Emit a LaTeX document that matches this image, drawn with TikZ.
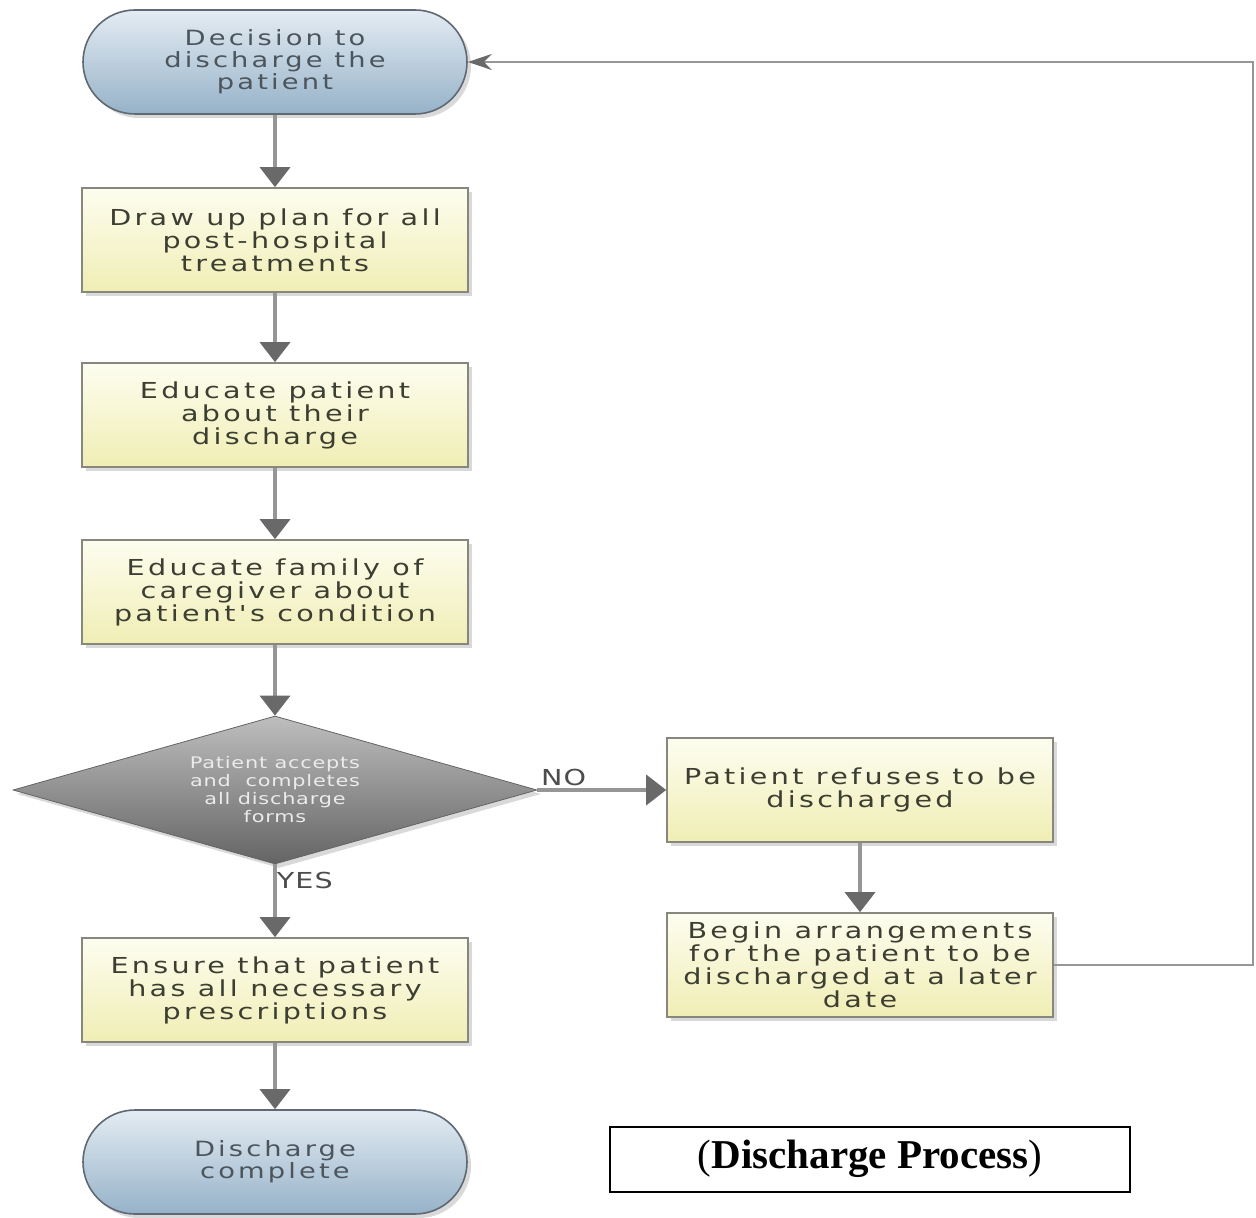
\documentclass[tikz,border=0pt]{standalone}
\usepackage{fontspec}
\usepackage{tikz}
\usetikzlibrary{arrows.meta,positioning,shapes.geometric,shapes.misc,shadows}
\newfontfamily\flowfont{DejaVu Sans}[FakeStretch=1.3,LetterSpace=15]
\newfontfamily\askfont{DejaVu Sans}[FakeStretch=1.3,LetterSpace=5]
\newfontfamily\capfont{Liberation Serif}
\definecolor{StepTop}{RGB}{253,253,240}
\definecolor{StepBottom}{RGB}{240,238,180}
\definecolor{StepLine}{RGB}{135,135,125}
\definecolor{EndTop}{RGB}{228,236,243}
\definecolor{EndBottom}{RGB}{150,178,200}
\definecolor{EndLine}{RGB}{95,105,115}
\definecolor{AskTop}{RGB}{190,190,190}
\definecolor{AskBottom}{RGB}{100,100,100}
\definecolor{FlowText}{RGB}{60,62,50}
\definecolor{LinkGray}{RGB}{150,150,150}
\definecolor{TipGray}{RGB}{105,105,105}

\begin{document}
\begin{tikzpicture}[x=.5pt,y=-.5pt,
  stepbox/.style={draw=StepLine,line width=.8pt,top color=StepTop,bottom color=StepBottom,
    minimum width=193pt,minimum height=52pt,inner sep=0pt,align=center,
    font=\flowfont\fontsize{11}{11.5}\selectfont,text=FlowText,
    drop shadow={opacity=.3,shadow xshift=2pt,shadow yshift=-2pt}},
  endbox/.style={rounded rectangle,draw=EndLine,line width=.8pt,top color=EndTop,bottom color=EndBottom,
    minimum width=192pt,minimum height=52pt,inner sep=0pt,align=center,
    font=\flowfont\fontsize{10.5}{11}\selectfont,text=EndLine!80!black,
    drop shadow={opacity=.3,shadow xshift=2pt,shadow yshift=-2pt}},
  askbox/.style={diamond,aspect=3.5,draw=AskBottom,top color=AskTop,bottom color=AskBottom,
    minimum width=262pt,minimum height=74pt,inner sep=0pt,align=center,
    font=\askfont\fontsize{8}{9}\selectfont,text=white!92!black,
    drop shadow={opacity=.3,shadow xshift=2pt,shadow yshift=-2pt}},
  capbox/.style={draw=black,line width=1pt,minimum width=260pt,minimum height=32.5pt,
    inner sep=0pt,font=\capfont\fontsize{20.5}{24}\selectfont},
  tag/.style={font=\askfont\fontsize{11}{12}\selectfont,text=black!70,inner sep=1pt},
  link/.style={draw=LinkGray,line width=1.8pt,-{Triangle[width=15pt,length=10pt,color=TipGray]}},
  back/.style={draw=LinkGray,line width=1.2pt,-{Stealth[width=8pt,length=12pt,color=TipGray]}}]
\useasboundingbox (0,0) rectangle (1256,1218);
% main column
\node[endbox] (decide) at (275,62) {Decision to\\discharge the\\patient};
\node[stepbox] (plan) at (275,240) {Draw up plan for all\\post-hospital\\treatments};
\node[stepbox] (teach) at (275,415) {Educate patient\\about their\\discharge};
\node[stepbox] (family) at (275,592) {Educate family of\\caregiver about\\patient's condition};
\node[askbox] (accept) at (275,790) {Patient accepts\\and \ completes\\all discharge\\forms};
\node[stepbox] (meds) at (275,990) {Ensure that patient\\has all necessary\\prescriptions};
\node[endbox] (done) at (275,1162) {Discharge\\complete};
% refusal branch
\node[stepbox] (refuse) at (860,790) {Patient refuses to be\\discharged};
\node[stepbox] (later) at (860,965) {Begin arrangements\\for the patient to be\\discharged at a later\\date};
\coordinate (turn) at (1253,965);
\node[capbox] (title) at (870,1159) {(\textbf{Discharge Process})};
% connectors
\draw[link] (decide) -- (plan);
\draw[link] (plan) -- (teach);
\draw[link] (teach) -- (family);
\draw[link] (family) -- (accept);
\draw[link] (accept) -- node[tag,above right,pos=0] (no) {NO} (refuse);
\draw[link] (accept) -- node[tag,right,pos=.22,inner sep=0pt] (yes) {YES} (meds);
\draw[link] (meds) -- (done);
\draw[link] (refuse) -- (later);
\draw[back] (later) -- (turn) |- (decide);
\end{tikzpicture}
\end{document}
